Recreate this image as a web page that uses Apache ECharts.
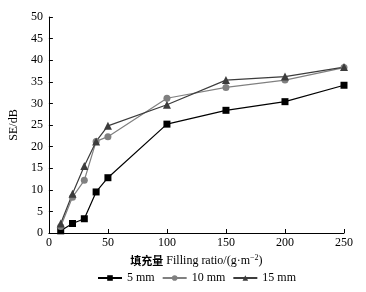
<!DOCTYPE html>
<html>
<head>
<meta charset="utf-8">
<script src="https://cdn.jsdelivr.net/npm/echarts@6/dist/echarts.min.js"></script>
<style>
  html, body { margin: 0; padding: 0; background: #fff; }
  #chart { width: 366px; height: 292px; }
</style>
</head>
<body>
<div id="chart"></div>
<script>
// filling ratio, g/m^2
const fillRatio = [10, 20, 30, 40, 50, 100, 150, 200, 250];
// SE in dB per thickness
const se5mm  = [0.5, 2.2, 3.3, 9.5, 12.8, 25.2, 28.4, 30.4, 34.2];
const se10mm = [1.5, 8.3, 12.2, 21.2, 22.3, 31.2, 33.7, 35.4, 38.3];
const se15mm = [2.2, 9.1, 15.5, 21.2, 24.8, 29.7, 35.4, 36.2, 38.4];
const seriesNames = ['5 mm', '10 mm', '15 mm'];

const serif = '"Liberation Serif", "Noto Sans CJK SC", serif';

function pairs(ys) {
    return fillRatio.map(function (x, i) { return [x, ys[i]]; });
}

function makeSeries(name, ys, symbol, color, size) {
    return {
        name: name,
        type: 'line',
        data: pairs(ys),
        symbol: symbol,
        symbolSize: size,
        lineStyle: { color: color, width: 1.2 },
        itemStyle: { color: color },
        animation: false
    };
}

const chart = echarts.init(document.getElementById('chart'));
chart.setOption({
    backgroundColor: '#fff',
    grid: { left: 46, right: 22, top: 17, bottom: 59 },
    legend: {
        bottom: 8,
        left: 97,
        padding: 0,
        itemWidth: 24,
        itemHeight: 7,
        itemGap: 7,
        textStyle: { fontFamily: serif, fontSize: 12, color: '#000' },
        data: seriesNames
    },
    xAxis: {
        type: 'value',
        min: 0, max: 250, interval: 50,
        name: '{b|填充量} Filling ratio/(g·m{s|−2})',
        nameLocation: 'middle',
        nameGap: 14,
        nameTextStyle: {
            fontFamily: serif, fontSize: 12, color: '#000',
            rich: {
                b: { fontFamily: '"Noto Sans CJK SC"', fontWeight: 'bold', fontSize: 11, color: '#000' },
                s: { fontFamily: serif, fontSize: 8, verticalAlign: 'top', padding: [0, 0, 6, 0], color: '#000' }
            }
        },
        axisLine: { lineStyle: { color: '#000', width: 1 } },
        axisTick: { inside: true, length: 4, lineStyle: { color: '#000' } },
        axisLabel: { fontFamily: serif, fontSize: 12, color: '#000', margin: 4 },
        splitLine: { show: false }
    },
    yAxis: {
        type: 'value',
        min: 0, max: 50, interval: 5,
        name: 'SE/dB',
        nameLocation: 'middle',
        nameGap: 28,
        nameTextStyle: { fontFamily: serif, fontSize: 12, color: '#000' },
        axisLine: { show: true, lineStyle: { color: '#000', width: 1 } },
        axisTick: { show: true, inside: true, length: 4, lineStyle: { color: '#000' } },
        axisLabel: { fontFamily: serif, fontSize: 12, color: '#000', margin: 6 },
        splitLine: { show: false }
    },
    series: [
        makeSeries(seriesNames[0], se5mm, 'rect', '#000', 7),
        makeSeries(seriesNames[1], se10mm, 'circle', '#808080', 7),
        makeSeries(seriesNames[2], se15mm, 'triangle', '#3c3c3c', 8)
    ]
});
</script>
</body>
</html>
